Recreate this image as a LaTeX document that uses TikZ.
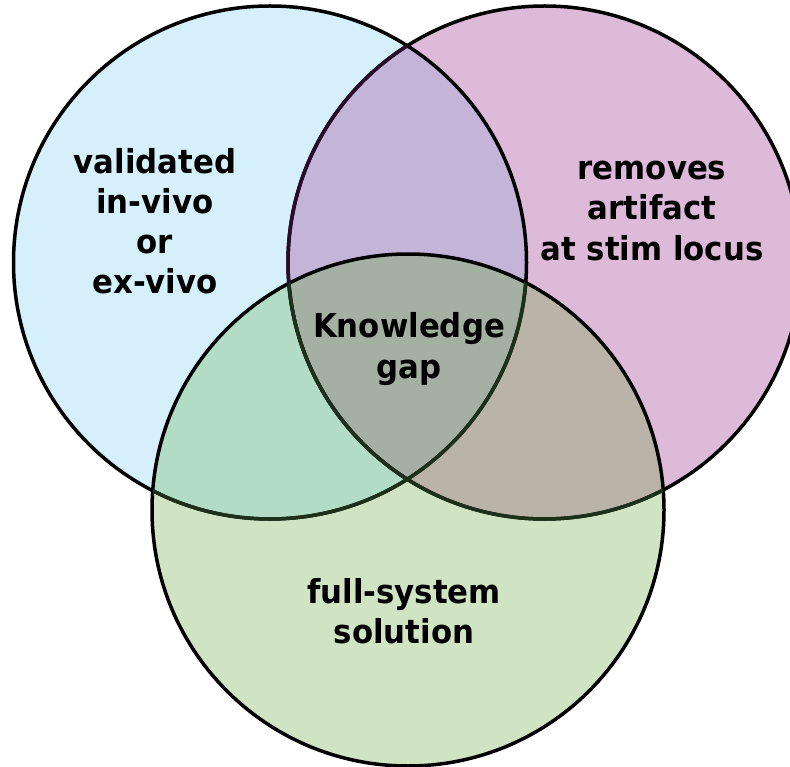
\documentclass[tikz,border=0pt]{standalone}
\usepackage{fontspec}
\setmainfont{DejaVu Sans}
\begin{document}
\begin{tikzpicture}[x=1pt,y=-1pt,
  ring/.style={line width=3.5pt},
  lbl/.style={align=center,font=\fontsize{30.8}{37.5}\selectfont\bfseries,
    inner sep=0pt,yscale=1.07,transform shape}]
\definecolor{cblue}{HTML}{D5F0FA}
\definecolor{cpink}{HTML}{DCBAD8}
\definecolor{cgreen}{HTML}{D0E4C4}
\definecolor{cbp}{HTML}{C4B4D8}
\definecolor{cbg}{HTML}{B2DCC4}
\definecolor{cpg}{HTML}{BAB4A8}
\definecolor{cbpg}{HTML}{A4B0A2}
\definecolor{edgegreen}{HTML}{1C301A}
\definecolor{edgepurple}{HTML}{2A0C2C}
% canvas
\fill[white] (0,0) rectangle (790,767);
\useasboundingbox (0,0) rectangle (790,767);
% circle geometry
\def\blueC{(270,262.5) circle[radius=256.5]}
\def\pinkC{(544.5,262.5) circle[radius=256.5]}
\def\greenC{(408,510) circle[radius=256]}
% single-set fills
\fill[cblue] \blueC;
\fill[cpink] \pinkC;
\fill[cgreen] \greenC;
% pairwise overlaps
\begin{scope}
  \clip \blueC;
  \fill[cbp] \pinkC;
  \fill[cbg] \greenC;
  \clip \pinkC;
  \fill[cbpg] \greenC;
\end{scope}
\begin{scope}
  \clip \pinkC;
  \clip \greenC;
  \fill[cpg] (0,0) rectangle (790,767);
  \clip \blueC;
  \fill[cbpg] (0,0) rectangle (790,767);
\end{scope}
% outlines
\draw[ring] \blueC;
\draw[ring] \pinkC;
\draw[ring] \greenC;
\begin{scope}
  \clip \blueC;
  \draw[ring,edgepurple] \pinkC;
\end{scope}
\begin{scope}
  \clip \greenC;
  \draw[ring,edgegreen] \blueC;
  \draw[ring,edgegreen] \pinkC;
\end{scope}
% labels
\node[lbl] (valid) at (155,221) {validated\\in-vivo\\or\\ex-vivo};
\node[lbl] (remov) at (652,211) {removes\\artifact\\at stim locus};
\node[lbl] (gap) at (409,349) {Knowledge\\gap};
\node[lbl] (full) at (404,611) {full-system\\solution};
\end{tikzpicture}
\end{document}
